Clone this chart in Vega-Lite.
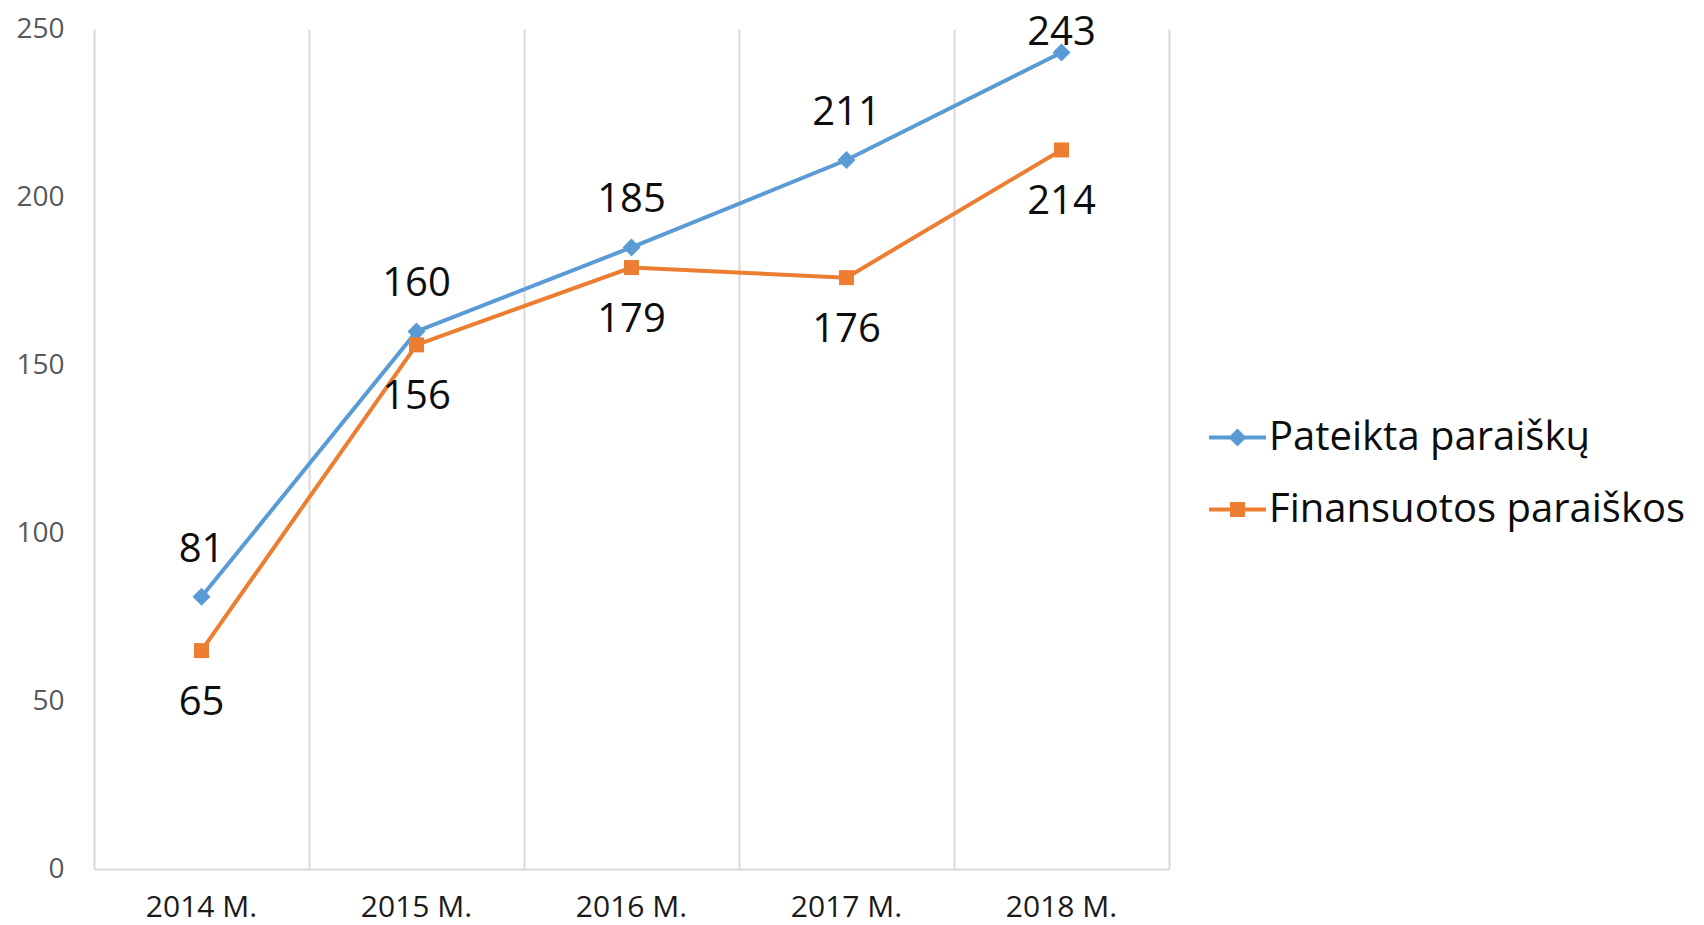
{
  "$schema": "https://vega.github.io/schema/vega-lite/v6.json",
  "width": 1075,
  "height": 840,
  "autosize": "none",
  "padding": {"left": 94, "top": 29, "right": 535, "bottom": 56},
  "config": {"view": {"stroke": null}, "font": "Open Sans"},
  "data": {
    "values": [
      {"year": "2014 M.", "series": "Pateikta paraiškų", "value": 81},
      {"year": "2015 M.", "series": "Pateikta paraiškų", "value": 160},
      {"year": "2016 M.", "series": "Pateikta paraiškų", "value": 185},
      {"year": "2017 M.", "series": "Pateikta paraiškų", "value": 211},
      {"year": "2018 M.", "series": "Pateikta paraiškų", "value": 243},
      {"year": "2014 M.", "series": "Finansuotos paraiškos", "value": 65},
      {"year": "2015 M.", "series": "Finansuotos paraiškos", "value": 156},
      {"year": "2016 M.", "series": "Finansuotos paraiškos", "value": 179},
      {"year": "2017 M.", "series": "Finansuotos paraiškos", "value": 176},
      {"year": "2018 M.", "series": "Finansuotos paraiškos", "value": 214}
    ]
  },
  "resolve": {"axis": {"x": "independent", "y": "independent"}},
  "layer": [
    {
      "transform": [{"filter": "datum.year === '2014 M.'"}],
      "mark": {"type": "point", "filled": true, "size": 0},
      "encoding": {
        "x": {"field": "year", "type": "nominal", "sort": ["2014 M.", "2015 M.", "2016 M.", "2017 M.", "2018 M."],
              "scale": {"type": "band", "paddingInner": 0, "paddingOuter": 0}, "bandPosition": 0.5, "axis": null},
        "y": {"field": "value", "type": "quantitative", "scale": {"domain": [0, 250], "nice": false}, "axis": null},
        "color": {"field": "series", "type": "nominal", "sort": ["Pateikta paraiškų", "Finansuotos paraiškos"],
                  "scale": {"domain": ["Pateikta paraiškų", "Finansuotos paraiškos"], "range": ["#5B9BD5", "#ED7D31"]},
                  "legend": {"title": null, "orient": "none", "legendX": 1115, "legendY": 380, "padding": 0,
                             "labelFontSize": 40, "labelColor": "#0d0d0d", "labelOffset": 3, "labelLimit": 0, "rowPadding": 23,
                             "symbolSize": 3249, "symbolStrokeWidth": 0, "symbolOpacity": 1}},
        "shape": {"field": "series", "type": "nominal", "sort": ["Pateikta paraiškų", "Finansuotos paraiškos"],
                  "scale": {"domain": ["Pateikta paraiškų", "Finansuotos paraiškos"],
                            "range": ["M-1,-0.07L-0.246,-0.07L0,-0.316L0.246,-0.07L1,-0.07L1,0.07L0.246,0.07L0,0.316L-0.246,0.07L-1,0.07Z",
                                      "M-1,-0.07L-0.263,-0.07L-0.263,-0.263L0.263,-0.263L0.263,-0.07L1,-0.07L1,0.07L0.263,0.07L0.263,0.263L-0.263,0.263L-0.263,0.07L-1,0.07Z"]},
                  "legend": {"title": null, "orient": "none", "legendX": 1115, "legendY": 380, "padding": 0,
                             "labelFontSize": 40, "labelColor": "#0d0d0d", "labelOffset": 3, "labelLimit": 0, "rowPadding": 23,
                             "symbolSize": 3249, "symbolStrokeWidth": 0, "symbolOpacity": 1}}
      }
    },
    {
      "mark": {"type": "line", "strokeWidth": 4},
      "encoding": {
        "x": {"field": "year", "type": "nominal", "sort": ["2014 M.", "2015 M.", "2016 M.", "2017 M.", "2018 M."],
              "scale": {"type": "band", "paddingInner": 0, "paddingOuter": 0}, "bandPosition": 0.5,
              "axis": {"orient": "bottom", "bandPosition": 0, "grid": true, "gridColor": "#d9d9d9", "gridWidth": 2,
                       "labels": false, "ticks": false, "domain": true, "domainColor": "#d9d9d9", "domainWidth": 2, "title": null}},
        "y": {"field": "value", "type": "quantitative", "scale": {"domain": [0, 250], "nice": false},
              "axis": {"orient": "left", "values": [0, 50, 100, 150, 200, 250], "grid": false, "ticks": false, "domain": false,
                       "labelFontSize": 28, "labelColor": "#595959", "labelPadding": 30, "title": null}},
        "color": {"field": "series", "type": "nominal", "sort": ["Pateikta paraiškų", "Finansuotos paraiškos"]}
      }
    },
    {
      "transform": [{"filter": "datum.series === 'Pateikta paraiškų'"}],
      "mark": {"type": "point", "filled": true, "opacity": 1, "shape": "diamond", "size": 324},
      "encoding": {
        "x": {"field": "year", "type": "nominal", "sort": ["2014 M.", "2015 M.", "2016 M.", "2017 M.", "2018 M."],
              "scale": {"type": "band", "paddingInner": 0, "paddingOuter": 0}, "bandPosition": 0.5,
              "axis": {"orient": "bottom", "grid": false, "ticks": false, "domain": false, "labelAngle": 0,
                       "labelFontSize": 30, "labelColor": "#1a1a1a", "labelPadding": 23, "title": null}},
        "y": {"field": "value", "type": "quantitative", "scale": {"domain": [0, 250], "nice": false},
              "axis": {"orient": "right", "labels": false, "ticks": false, "grid": false, "domain": true,
                       "domainColor": "#d9d9d9", "domainWidth": 2, "title": null}},
        "color": {"field": "series", "type": "nominal", "sort": ["Pateikta paraiškų", "Finansuotos paraiškos"]}
      }
    },
    {
      "transform": [{"filter": "datum.series === 'Finansuotos paraiškos'"}],
      "mark": {"type": "point", "filled": true, "opacity": 1, "shape": "square", "size": 225},
      "encoding": {
        "x": {"field": "year", "type": "nominal", "sort": ["2014 M.", "2015 M.", "2016 M.", "2017 M.", "2018 M."], "bandPosition": 0.5, "axis": null},
        "y": {"field": "value", "type": "quantitative", "axis": null},
        "color": {"field": "series", "type": "nominal", "sort": ["Pateikta paraiškų", "Finansuotos paraiškos"]}
      }
    },
    {
      "transform": [{"filter": "datum.series === 'Pateikta paraiškų' && datum.value < 240"}],
      "mark": {"type": "text", "fontSize": 40, "color": "#0d0d0d", "baseline": "middle", "dy": -47},
      "encoding": {
        "x": {"field": "year", "type": "nominal", "sort": ["2014 M.", "2015 M.", "2016 M.", "2017 M.", "2018 M."], "bandPosition": 0.5, "axis": null},
        "y": {"field": "value", "type": "quantitative", "axis": null},
        "text": {"field": "value", "type": "quantitative"}
      }
    },
    {
      "transform": [{"filter": "datum.series === 'Pateikta paraiškų' && datum.value >= 240"}],
      "mark": {"type": "text", "fontSize": 40, "color": "#0d0d0d", "baseline": "middle", "dy": -20},
      "encoding": {
        "x": {"field": "year", "type": "nominal", "sort": ["2014 M.", "2015 M.", "2016 M.", "2017 M.", "2018 M."], "bandPosition": 0.5, "axis": null},
        "y": {"field": "value", "type": "quantitative", "axis": null},
        "text": {"field": "value", "type": "quantitative"}
      }
    },
    {
      "transform": [{"filter": "datum.series === 'Finansuotos paraiškos'"}],
      "mark": {"type": "text", "fontSize": 40, "color": "#0d0d0d", "baseline": "middle", "dy": 52},
      "encoding": {
        "x": {"field": "year", "type": "nominal", "sort": ["2014 M.", "2015 M.", "2016 M.", "2017 M.", "2018 M."], "bandPosition": 0.5, "axis": null},
        "y": {"field": "value", "type": "quantitative", "axis": null},
        "text": {"field": "value", "type": "quantitative"}
      }
    }
  ]
}
